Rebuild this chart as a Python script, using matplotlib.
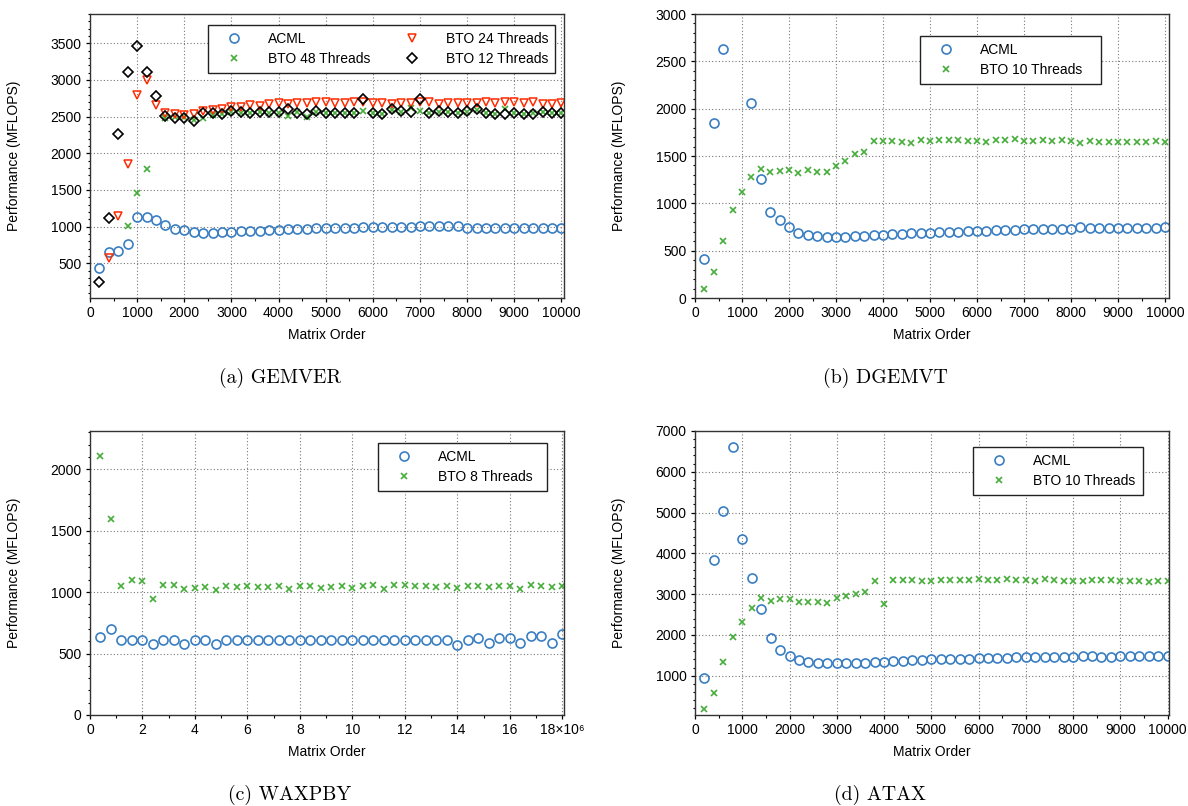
import matplotlib
matplotlib.use("Agg")
import matplotlib.pyplot as plt
import numpy as np
from matplotlib.ticker import MultipleLocator, FuncFormatter

plt.rcParams["font.family"] = ["Liberation Sans", "DejaVu Sans"]

nan = np.nan

# matrix orders used in GEMVER / DGEMVT / ATAX (200 .. 10000)
orders = list(range(200, 10001, 200))
# vector lengths used in WAXPBY (0.4e6 .. 18e6)
lengths = [v * 1e5 for v in range(4, 181, 4)]

# (a) GEMVER
gemver_acml = [440, 655, 664, 764, 1128, 1137, 1092, 1019, 973, 955, 928, 919, 919, 928, 928,
               937, 946, 946, 955, 955, 964,
               965, 970, 975, 978, 982, 985, 988, 990, 992, 995, 997, 1000, 1002, 1005,
               1005, 1005, 1005, 1003, 978, 978, 978, 976, 976, 976, 976, 976, 976, 975, 975]
gemver_bto48 = [nan, nan, nan, 1005, 1462, 1793, nan, 2476, 2490, 2490, 2450, 2476, 2526, 2540,
                2560, 2555, 2545, 2560, 2555, 2555, 2503,
                2560, 2489, 2565, 2555, 2545, 2545, 2545, 2576, 2555, 2540, 2590, 2570, 2620, 2576,
                2545, 2570, 2560, 2545, 2570, 2595, 2555, 2540, 2610, 2555, 2540, 2545, 2565, 2555, 2545]
gemver_bto24 = [nan, 570, 1146, 1861, 2794, 2995, 2653, 2549, 2530, 2517, 2540, 2571, 2590, 2603,
                2626, 2635, 2653, 2644, 2667, 2685, 2671,
                2680, 2680, 2699, 2699, 2685, 2690, 2699, 2700, 2690, 2690, 2671, 2680, 2680, 2700,
                2699, 2671, 2690, 2690, 2690, 2680, 2699, 2680, 2699, 2699, 2690, 2699, 2671, 2671, 2680]
gemver_bto12 = [250, 1119, 2257, 3113, 3464, 3108, 2781, 2512, 2485, 2485, 2444, 2544, 2553, 2540,
                2571, 2558, 2544, 2562, 2558, 2558, 2599,
                2553, 2535, 2571, 2553, 2544, 2544, 2544, 2744, 2553, 2535, 2599, 2571, 2562, 2740,
                2544, 2571, 2558, 2544, 2571, 2599, 2553, 2540, 2540, 2553, 2535, 2540, 2567, 2553, 2544]

# (b) DGEMVT
dgemvt_acml = [414, 1848, 2635, nan, nan, 2058, 1254, 913, 829, 748, 689, 667, 650, 646, 643,
               643, 653, 653, 664, 667, 674,
               678, 682, 686, 689, 693, 696, 700, 703, 707, 710, 714, 717, 720, 724,
               726, 728, 730, 731, 733, 745, 740, 738, 738, 742, 742, 742, 740, 744, 745]
dgemvt_bto10 = [91, 278, 597, 934, 1124, 1279, 1359, 1335, 1342, 1352, 1321, 1349, 1335, 1331,
                1391, 1451, 1521, 1542, 1655, 1655, 1655,
                1651, 1637, 1672, 1655, 1669, 1669, 1672, 1655, 1662, 1644, 1665, 1665, 1676, 1662,
                1655, 1672, 1655, 1665, 1658, 1640, 1655, 1651, 1651, 1651, 1644, 1644, 1648, 1655, 1644]

# (c) WAXPBY
waxpby_acml = [631, 699, 610, 610, 610, 575, 610, 610, 575, 610, 610, 575, 610, 610, 610, 610,
               610, 610, 610,
               610, 610, 610, 610, 610, 610, 610, 610, 610, 610, 610, 610, 610, 610, 610,
               569, 610, 629, 585, 629, 629, 585, 640, 640, 585, 656]
waxpby_bto8 = [2103, 1591, 1051, 1098, 1092, 943, 1057, 1057, 1027, 1035, 1038, 1019, 1046, 1038,
               1046, 1043, 1041, 1046, 1027,
               1051, 1049, 1033, 1043, 1046, 1030, 1046, 1054, 1027, 1054, 1054, 1051, 1051, 1041,
               1046, 1033, 1046, 1049, 1038, 1051, 1049, 1027, 1054, 1051, 1041, 1049]

# (d) ATAX
atax_acml = [951, 3833, 5049, 6608, 4347, 3392, 2641, 1931, 1620, 1482, 1384, 1335, 1310, 1302,
             1302, 1302, 1318, 1318, 1343, 1343, 1359,
             1370, 1380, 1390, 1400, 1405, 1410, 1415, 1420, 1425, 1432, 1440, 1445, 1450, 1457,
             1457, 1460, 1462, 1464, 1465, 1475, 1472, 1470, 1470, 1472, 1478, 1480, 1482, 1485, 1490]
atax_bto10 = [192, 567, 1327, 1939, 2314, 2649, 2902, 2837, 2886, 2869, 2812, 2796, 2812, 2780,
              2910, 2959, 3008, 3041, 3318, 2763, 3335,
              3343, 3343, 3318, 3318, 3335, 3335, 3343, 3343, 3367, 3343, 3343, 3367, 3343, 3335,
              3318, 3367, 3343, 3327, 3327, 3327, 3335, 3343, 3343, 3318, 3318, 3318, 3310, 3327, 3318]

BLUE = "#3a7ec2"
GREEN = "#46ad3a"
RED = "#ff2a00"

W, H = 1188, 806


def style_axis(ax, xlim, ylim, xmaj, xmin, ymaj, ymin):
    ax.set_xlim(*xlim)
    ax.set_ylim(*ylim)
    ax.xaxis.set_major_locator(MultipleLocator(xmaj))
    ax.xaxis.set_minor_locator(MultipleLocator(xmin))
    ax.yaxis.set_major_locator(MultipleLocator(ymaj))
    ax.yaxis.set_minor_locator(MultipleLocator(ymin))
    ax.grid(True, which="major", linestyle=(0, (1, 2)), color="#777777", linewidth=0.8)
    ax.tick_params(which="both", direction="out", top=False, right=False, labelsize=10, pad=3)
    ax.tick_params(which="major", length=3, width=0.9)
    ax.tick_params(which="minor", length=1.8, width=0.8)
    for s in ax.spines.values():
        s.set_color("#333333")
        s.set_linewidth(1.0)
    ax.set_xlabel("Matrix Order", fontsize=10)
    ax.set_ylabel("Performance (MFLOPS)", fontsize=10)
    ax.xaxis.set_label_coords(0.5, -0.104)
    ax.yaxis.set_label_coords(-0.145, 0.5)


def add_legend(fig, ax, x, y, w, ncol=1):
    # legend box placed by its upper-left corner and width, in figure pixels
    leg = ax.legend(loc="upper left", bbox_to_anchor=(x / W, 1 - y / H - 0.2, w / W, 0.2),
                    bbox_transform=fig.transFigure, mode="expand", borderaxespad=0,
                    ncol=ncol, fontsize=10, frameon=True, fancybox=False, edgecolor="#222222",
                    framealpha=1, borderpad=0.5, handlelength=2.8, handletextpad=1.0,
                    labelspacing=0.42, numpoints=1)
    leg.get_frame().set_linewidth(1.0)


def circles(ax, x, y, label):
    ax.plot(x, y, "o", ms=6.5, mfc="none", mec=BLUE, mew=1.2, ls="none", label=label)


def crosses(ax, x, y, label):
    ax.plot(x, y, "x", ms=4.5, color=GREEN, mew=1.2, ls="none", label=label)


fig = plt.figure(figsize=(W / 100, H / 100), dpi=100)
aw, ah = 474 / W, 284 / H
ax_a = fig.add_axes([90 / W, 1 - 298 / H, aw, ah])
ax_b = fig.add_axes([695 / W, 1 - 298 / H, aw, ah])
ax_c = fig.add_axes([90 / W, 1 - 715 / H, aw, ah])
ax_d = fig.add_axes([695 / W, 1 - 715 / H, aw, ah])

# (a) GEMVER
circles(ax_a, orders, gemver_acml, "ACML")
crosses(ax_a, orders, gemver_bto48, "BTO 48 Threads")
ax_a.plot(orders, gemver_bto24, "v", ms=6, mfc="none", mec=RED, mew=1.1, ls="none",
          label="BTO 24 Threads")
ax_a.plot(orders, gemver_bto12, "D", ms=5, mfc="none", mec="black", mew=1.2, ls="none",
          label="BTO 12 Threads")
style_axis(ax_a, (0, 10055), (27, 3900), 1000, 500, 500, 100)
add_legend(fig, ax_a, 208, 25, 347, ncol=2)

# (b) DGEMVT
circles(ax_b, orders, dgemvt_acml, "ACML")
crosses(ax_b, orders, dgemvt_bto10, "BTO 10 Threads")
style_axis(ax_b, (0, 10085), (0, 3000), 1000, 500, 500, 100)
add_legend(fig, ax_b, 920, 36, 181)

# (c) WAXPBY
circles(ax_c, lengths, waxpby_acml, "ACML")
crosses(ax_c, lengths, waxpby_bto8, "BTO 8 Threads")
style_axis(ax_c, (0, 18.06e6), (0, 2310), 2e6, 1e6, 500, 100)


def mega(v, pos):
    if abs(v - 18e6) < 1:
        return "18\u00d710\u2076"
    return "%g" % (v / 1e6)


ax_c.xaxis.set_major_formatter(FuncFormatter(mega))
add_legend(fig, ax_c, 378, 443, 169)

# (d) ATAX
circles(ax_d, orders, atax_acml, "ACML")
crosses(ax_d, orders, atax_bto10, "BTO 10 Threads")
style_axis(ax_d, (0, 10030), (37, 7000), 1000, 500, 1000, 200)
add_legend(fig, ax_d, 973, 447, 170)

captions = [("(a) GEMVER", 280, 378), ("(b) DGEMVT", 885, 378),
            ("(c) WAXPBY", 290, 795), ("(d) ATAX", 880, 795)]
for text, cx, cy in captions:
    fig.text(cx / W, 1 - cy / H, text, ha="center", va="center", fontsize=14.3,
             family=["cmr10", "DejaVu Serif"])

fig.savefig("out.png", dpi=100)
